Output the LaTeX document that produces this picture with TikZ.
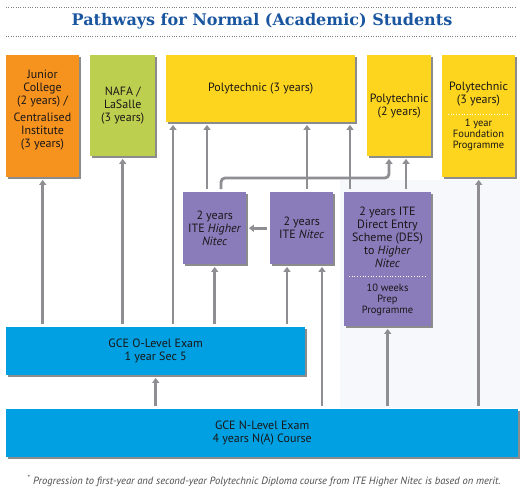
\documentclass[tikz,border=0pt]{standalone}
\usepackage{fontspec}
\setmainfont{PT Sans}
\newfontfamily\slabfont{DejaVu Serif}
\usetikzlibrary{shadows}
\usetikzlibrary{arrows.meta}
\definecolor{titleblue}{HTML}{1A56A0}
\definecolor{jcorange}{HTML}{F6921E}
\definecolor{nafagreen}{HTML}{BDCF4E}
\definecolor{polyyellow}{HTML}{FDD51E}
\definecolor{itepurple}{HTML}{8A7BBA}
\definecolor{gceblue}{HTML}{00A0E2}
\definecolor{routegray}{HTML}{8F8F93}
\definecolor{boxtext}{HTML}{1A1718}
\definecolor{panelblue}{HTML}{F6F8FC}
\tikzstyle{pathbox}=[inner sep=2pt, anchor=north west, align=center, text=boxtext,
  font=\fontsize{12}{13}\selectfont,
  drop shadow={shadow xshift=1.8pt, shadow yshift=-1.8pt, fill=black!45, opacity=1}]
\tikzstyle{boxlabel}=[align=center, text=boxtext, font=\fontsize{12}{13}\selectfont]
\tikzstyle{smalllabel}=[boxlabel, font=\fontsize{10.5}{11}\selectfont]
\tikzstyle{route}=[draw=routegray, line width=2.8pt, shorten <=3pt, shorten >=2.5pt,
  -{Triangle[length=5pt, width=7pt]}]

\begin{document}
\begin{tikzpicture}[x=1pt, y=-1pt]
        \useasboundingbox (0,0) rectangle (525,491);
        % title
        \draw[dotted, gray] (6,7) -- (515,7);
        \draw[dotted, gray] (6,36) -- (515,36);
        \node[font=\slabfont\bfseries\fontsize{16}{18}\selectfont, text=titleblue] (title) at (262,21) {Pathways for Normal (Academic) Students};
        \fill[panelblue] (340,180) rectangle (520,408);
        % top row
        \node[pathbox, fill=jcorange, minimum width=73pt, minimum height=122pt] (jc) at (6,55) {};
        \node[boxlabel] (jctext) at (42.5,110) {Junior\\College\\(2 years) /\\[4pt]Centralised\\Institute\\(3 years)};
        \node[pathbox, fill=nafagreen, minimum width=65pt, minimum height=101pt] (nafa) at (90,55) {NAFA /\\LaSalle\\(3 years)};
        \node[pathbox, fill=polyyellow, minimum width=189pt, minimum height=67pt] (poly3) at (166,55) {Polytechnic (3 years)};
        \node[pathbox, fill=polyyellow, minimum width=64pt, minimum height=101pt] (poly2) at (367,55) {Polytechnic\\(2 years)};
        \node[pathbox, fill=polyyellow, minimum width=73pt, minimum height=122pt] (found) at (442,55) {};
        \node[boxlabel] (foundtop) at (478.5,94.5) {Polytechnic\\(3 years)};
        \draw[white, dotted, line width=0.7pt] (448,114) -- (509,114);
        \node[smalllabel] (foundlow) at (478.5,134.5) {1 year\\Foundation\\Programme};
        % ITE boxes
        \node[pathbox, fill=itepurple, minimum width=63pt, minimum height=72pt] (hnitec) at (183,192) {2 years\\ITE \textit{Higher}\\\textit{Nitec}};
        \node[pathbox, fill=itepurple, minimum width=63pt, minimum height=72pt] (nitec) at (270,192) {2 years\\ITE \textit{Nitec}};
        \node[pathbox, fill=itepurple, minimum width=87pt, minimum height=134pt] (des) at (344,192) {};
        \node[boxlabel] (destop) at (387.5,237) {2 years ITE\\Direct Entry\\Scheme (DES)\\to \textit{Higher}\\\textit{Nitec}};
        \draw[white, dotted, line width=0.7pt] (349,276) -- (427,276);
        \node[smalllabel] (deslow) at (387.5,300) {10 weeks\\Prep\\Programme};
        % GCE boxes
        \node[pathbox, fill=gceblue, minimum width=299pt, minimum height=48pt] (olevel) at (6,327) {GCE O-Level Exam\\1 year Sec 5};
        \node[pathbox, fill=gceblue, minimum width=512pt, minimum height=48pt] (nlevel) at (6,409) {GCE N-Level Exam\\4 years N(A) Course};
        % route points
        \coordinate (ol3) at ([xshift=7pt]poly3.south west);
        \coordinate (hn1) at ([xshift=24pt]hnitec.north west);
        \coordinate (hn2) at ([xshift=38pt]hnitec.north west);
        \coordinate (ni1) at ([xshift=37pt]nitec.north west);
        \coordinate (ni2) at ([xshift=17pt]nitec.south west);
        \coordinate (ni3) at ([xshift=52pt]nitec.south west);
        \coordinate (de1) at ([xshift=6pt]des.north west);
        \coordinate (de2) at ([xshift=62pt]des.north west);
        \coordinate (bend) at (389,178);
        % routes
        \draw[route] (olevel.north -| jc.south) -- (jc.south);
        \draw[route] (olevel.north -| nafa.south) -- (nafa.south);
        \draw[route] (olevel.north -| ol3) -- (ol3);
        \draw[route] (olevel.north -| hnitec.south) -- (hnitec.south);
        \draw[route] (olevel.north -| ni2) -- (ni2);
        \draw[route] (hn1) -- (hn1 |- poly3.south);
        \draw[route, rounded corners=4pt] (hn2) -- (hn2 |- bend) -- (bend) -- (bend |- poly2.south);
        \draw[route] (ni1) -- (ni1 |- poly3.south);
        \draw[route] (de1) -- (de1 |- poly3.south);
        \draw[route] (de2) -- (de2 |- poly2.south);
        \draw[route] (nitec.west) -- (hnitec.east);
        \draw[route] (nlevel.north -| olevel.south) -- (olevel.south);
        \draw[route] (nlevel.north -| ni3) -- (ni3);
        \draw[route] (nlevel.north -| des.south) -- (des.south);
        \draw[route] (nlevel.north -| found.south) -- (found.south);
        % footnote
        \node[font=\itshape\fontsize{10.5}{12}\selectfont, text=black!70] (note) at (264,481) {\textsuperscript{*} Progression to first-year and second-year Polytechnic Diploma course from ITE Higher Nitec is based on merit.};
    \end{tikzpicture}
\end{document}
